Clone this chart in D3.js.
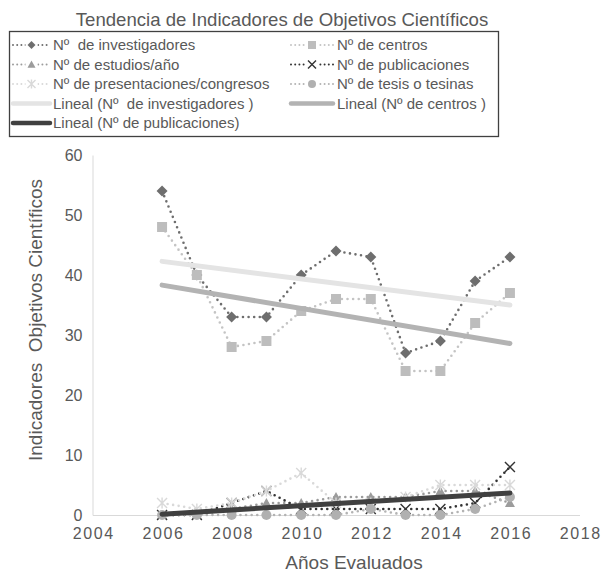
<!DOCTYPE html>
<html><head><meta charset="utf-8">
<script src="https://cdn.jsdelivr.net/npm/d3@7"></script>
<style>
body{margin:0;background:#fff}
svg text{font-family:"Liberation Sans",Arial,Helvetica,sans-serif;fill:#595959}
</style>
</head><body>
<svg id="c" width="601" height="573"></svg>
<script>
// ---- data ----
const years = [2006,2007,2008,2009,2010,2011,2012,2013,2014,2015,2016];
const investigadores = [54,40,33,33,40,44,43,27,29,39,43];
const centros        = [48,40,28,29,34,36,36,24,24,32,37];
const estudios       = [0,0,1,2,2,3,3,3,4,4,2];
const publicaciones  = [0,0,2,4,1,1,1,1,1,2,8];
const presentaciones = [2,1,2,4,7,2,2,3,5,5,5];
const tesis          = [0,0,0,0,0,0,1,0,0,1,3];
const xTicks = [2004,2006,2008,2010,2012,2014,2016,2018];
const yTicks = [0,10,20,30,40,50,60];
const title = "Tendencia de Indicadores de Objetivos Científicos";
const xTitle = "Años Evaluados";
const yTitle = "Indicadores  Objetivos Científicos";

const seriesDefs = [
  {name:"Nº  de investigadores", values:investigadores, marker:"diamond", color:"#6e6e6e", line:"#6e6e6e"},
  {name:"Nº de centros", values:centros, marker:"square", color:"#bdbdbd", line:"#c4c4c4"},
  {name:"Nº de estudios/año", values:estudios, marker:"triangle", color:"#9c9c9c", line:"#9c9c9c"},
  {name:"Nº de publicaciones", values:publicaciones, marker:"x", color:"#333333", line:"#333333"},
  {name:"Nº de presentaciones/congresos", values:presentaciones, marker:"star", color:"#d9d9d9", line:"#d9d9d9"},
  {name:"Nº de tesis o tesinas", values:tesis, marker:"circle", color:"#b0b0b0", line:"#b3b3b3"}
];
const trendDefs = [
  {name:"Lineal (Nº  de investigadores )", values:investigadores, color:"#e4e4e4"},
  {name:"Lineal (Nº de centros )", values:centros, color:"#b3b3b3"},
  {name:"Lineal (Nº de publicaciones)", values:publicaciones, color:"#404040"}
];

function linreg(xs, ys){
  const n = xs.length, mx = d3.mean(xs), my = d3.mean(ys);
  let sxy=0, sxx=0;
  for(let i=0;i<n;i++){ sxy += (xs[i]-mx)*(ys[i]-my); sxx += (xs[i]-mx)**2; }
  const b = sxy/sxx, a = my - b*mx;
  return t => a + b*t;
}

const svg = d3.select("#c");
const x = d3.scaleLinear().domain([2004,2018]).range([92.5,579.5]);
const y = d3.scaleLinear().domain([0,60]).range([515,155]);

// ---- axes ----
const gx = svg.append("g").attr("transform","translate(0,515)")
  .call(d3.axisBottom(x).tickValues(xTicks).tickSize(0).tickSizeOuter(0).tickFormat(d3.format("d")));
gx.select(".domain").attr("stroke","#d9d9d9").attr("stroke-width",1);
gx.selectAll(".tick text").attr("y",13).attr("dy","0.71em").attr("dx","0.8px")
  .style("font-size","16px").style("letter-spacing","1.6px").attr("fill","#595959");

const gy = svg.append("g").attr("transform","translate(92.5,0)")
  .call(d3.axisLeft(y).tickValues(yTicks).tickSize(0).tickSizeOuter(0));
gy.select(".domain").attr("stroke","#d9d9d9").attr("stroke-width",1);
gy.selectAll(".tick text").attr("x",-10).style("font-size","16px").attr("fill","#595959");

// ---- marker paths ----
function markerPath(type, s){
  const h = s/2;
  switch(type){
    case "diamond": return `M0,${-h}L${h},0L0,${h}L${-h},0Z`;
    case "square": return `M${-h},${-h}H${h}V${h}H${-h}Z`;
    case "triangle": return `M0,${-h}L${h},${h*0.8}L${-h},${h*0.8}Z`;
    case "circle": { const p=d3.path(); p.arc(0,0,h,0,2*Math.PI); return p.toString(); }
    case "x": return `M${-h},${-h}L${h},${h}M${h},${-h}L${-h},${h}`;
    case "star": return `M${-h},${-h}L${h},${h}M${h},${-h}L${-h},${h}M0,${-h*1.1}V${h*1.1}`;
  }
}
function isStroke(type){ return type==="x" || type==="star"; }
function drawMarker(g, type, color, s, cx, cy){
  const p = g.append("path").attr("d", markerPath(type, s))
    .attr("transform",`translate(${cx},${cy})`);
  if(isStroke(type)) p.attr("fill","none").attr("stroke",color).attr("stroke-width",1.4);
  else p.attr("fill",color).attr("stroke","none");
}

// ---- series lines ----
const plot = svg.append("g");
const lineGen = d3.line().x(d=>x(d[0])).y(d=>y(d[1]));
seriesDefs.forEach(s=>{
  const pts = years.map((yr,i)=>[yr, s.values[i]]);
  plot.append("path").datum(pts).attr("d", lineGen)
    .attr("fill","none").attr("stroke", s.line).attr("stroke-width",2.6)
    .attr("stroke-linecap","round").attr("stroke-dasharray","0 5.6");
  const mg = plot.append("g");
  pts.forEach(p=> drawMarker(mg, s.marker, s.color, s.marker==="diamond"?11:10, x(p[0]), y(p[1])));
});

// ---- trend lines ----
trendDefs.forEach(t=>{
  const f = linreg(years, t.values);
  const x0 = years[0], x1 = years[years.length-1];
  plot.append("path").datum([[x0,f(x0)],[x1,f(x1)]]).attr("d", lineGen)
    .attr("fill","none").attr("stroke", t.color).attr("stroke-width",5).attr("stroke-linecap","round");
});

// ---- title ----
svg.append("text").attr("x",282).attr("y",26).attr("text-anchor","middle")
  .style("font-size","18.6px").text(title);

// ---- axis titles ----
svg.append("text").attr("x",354).attr("y",569).attr("text-anchor","middle")
  .style("font-size","19px").text(xTitle);
svg.append("text").attr("transform","translate(42,320) rotate(-90)").attr("text-anchor","middle")
  .style("font-size","19px").style("white-space","pre").text(yTitle);

// ---- legend ----
const lg = svg.append("g");
lg.append("rect").attr("x",9.5).attr("y",31.5).attr("width",489).attr("height",105)
  .attr("fill","none").attr("stroke","#404040").attr("stroke-width",1.3);
const rows = [45,64.5,84,103.5,123];
const cols = [{l0:13,l1:50,m:31.5,t:53},{l0:291,l1:333,m:312,t:337}];
const entries = [
  ...seriesDefs.map(s=>({type:"series", d:s})),
  ...trendDefs.map(t=>({type:"trend", d:t}))
];
entries.forEach((e,i)=>{
  const c = cols[i%2], ry = rows[Math.floor(i/2)];
  if(e.type==="series"){
    lg.append("line").attr("x1",c.l0).attr("x2",c.l1).attr("y1",ry).attr("y2",ry)
      .attr("stroke",e.d.line).attr("stroke-width",2).attr("stroke-linecap","round")
      .attr("stroke-dasharray","0 4.2");
    lg.append("rect").attr("x",c.m-6).attr("y",ry-6).attr("width",12).attr("height",12).attr("fill","#fff");
    drawMarker(lg, e.d.marker, e.d.color, 8, c.m, ry);
  } else {
    lg.append("line").attr("x1",c.l0).attr("x2",c.l1).attr("y1",ry).attr("y2",ry)
      .attr("stroke",e.d.color).attr("stroke-width",4.5).attr("stroke-linecap","round");
  }
  lg.append("text").attr("x",c.t).attr("y",ry).attr("dy","0.36em")
    .style("font-size","15px").style("white-space","pre").text(e.d.name);
});
</script>
</body></html>
